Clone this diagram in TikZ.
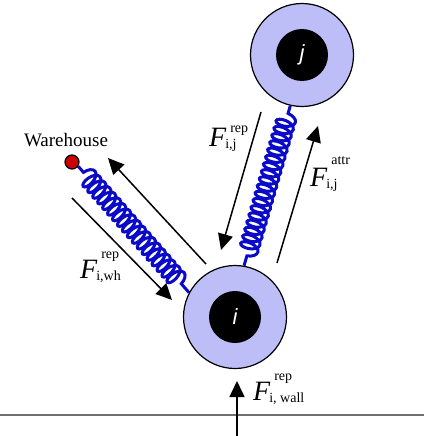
\documentclass[tikz,border=0pt]{standalone}
\usepackage{fontspec}
\setmainfont{Liberation Serif}
\newfontfamily\ballfont{Liberation Sans}
\usepackage{xcolor}
\definecolor{ballfill}{HTML}{BDBDF7}
\definecolor{springblue}{HTML}{0A0AC8}
\definecolor{whred}{HTML}{CC0000}
\definecolor{wallgray}{HTML}{707070}
\usetikzlibrary{arrows.meta,decorations.pathmorphing}

% force label: F with superscript and subscript
\newcommand{\forcelabel}[3][20pt]{%
  {\fontsize{28}{28}\selectfont\itshape F}%
  \kern-1pt%
  \rlap{\raisebox{#1}{\kern5pt\fontsize{14}{14}\selectfont #2}}%
  \raisebox{-2pt}{\fontsize{14}{14}\selectfont #3}}

\begin{document}
\begin{tikzpicture}[
            x=1pt, y=-1pt,
            >={Triangle[length=16pt,width=15pt]},
            % --- node styles ---
            ball/.style={
                circle, draw, line width=1.2pt, fill=ballfill,
                minimum size=103pt, inner sep=0pt
            },
            core/.style={
                circle, fill=black, minimum size=52pt, inner sep=0pt,
                text=white, font=\ballfont\itshape\fontsize{22}{22}\selectfont
            },
            depot/.style={
                circle, draw, line width=1.2pt, fill=whred,
                minimum size=14pt, inner sep=0pt
            },
            lbl/.style={anchor=base west, inner sep=0pt},
            % --- edge styles ---
            spring/.style={
                springblue, line width=3pt, decorate,
                decoration={coil, amplitude=9.5pt, segment length=7.5pt,
                            pre length=8pt, post length=6pt}
            },
            force/.style={->, line width=1.5pt},
            wall/.style={wallgray, line width=2.5pt}
        ]
        \useasboundingbox (0,0) rectangle (424,436);

        % ===== Wall =====
        \coordinate (wallL) at (0,415);
        \coordinate (wallR) at (424,415);
        \draw[wall] (wallL) -- (wallR);

        % ===== Agents and warehouse =====
        \node[ball] (i) at (235,317) {};
        \node[core] (icore) at (i.center) {i};
        \node[ball] (j) at (302,55) {};
        \node[core] (jcore) at (j.center) {j};

        \node[depot] (wh) at (72,162) {};
        \node[anchor=base, inner sep=0pt, font=\fontsize{19}{19}\selectfont]
            (whname) at (66,146.5) {Warehouse};

        % ===== Springs =====
        \draw[spring] (wh.-35) -- (i.152);
        \draw[spring] (j.257) -- (i.80);

        % ===== Force arrows =====
        \coordinate (whin0)  at (72,198);
        \coordinate (whin1)  at (172,300);
        \coordinate (whout0) at (206,264);
        \coordinate (whout1) at (108,158);
        \coordinate (ijrep0) at (261,112);
        \coordinate (ijrep1) at (221,250);
        \coordinate (ijatt0) at (277,263);
        \coordinate (ijatt1) at (318,126);
        \coordinate (wall0)  at (237,436);
        \coordinate (wall1)  at (237,381);

        \draw[force] (whin0)  -- (whin1);
        \draw[force] (whout0) -- (whout1);
        \draw[force] (ijrep0) -- (ijrep1);
        \draw[force] (ijatt0) -- (ijatt1);
        \draw[force] (wall0)  -- (wall1);

        % ===== Labels =====
        \node[lbl] (fwh)   at (80,278)    {\forcelabel{rep}{i,wh}};
        \node[lbl] (fijr)  at (209,146.5) {\forcelabel[14pt]{rep}{i,j}};
        \node[lbl] (fija)  at (310,186)   {\forcelabel[22pt]{attr}{i,j}};
        \node[lbl] (fwall) at (253,400)   {\forcelabel{rep}{i, wall}};

        \end{tikzpicture}
\end{document}
